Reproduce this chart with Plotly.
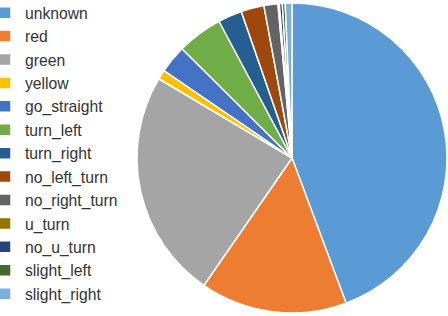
import plotly.graph_objects as go

labels = ["unknown", "red", "green", "yellow", "go_straight", "turn_left", "turn_right",
          "no_left_turn", "no_right_turn", "u_turn", "no_u_turn", "slight_left", "slight_right"]
values = [44.3, 15.3, 23.9, 1.0, 2.9, 4.75, 2.5, 2.4, 1.45, 0.15, 0.3, 0.3, 0.7]
colors = ["#5B9BD5", "#ED7D31", "#A5A5A5", "#FFC000", "#4472C4", "#70AD47", "#255E91",
          "#9E480E", "#636363", "#997300", "#264478", "#43682B", "#7CAFDD"]

W, H = 448, 316
cx, cy, r = 292, 158, 155

fig = go.Figure(go.Pie(
    labels=labels, values=values, sort=False, direction="clockwise", rotation=0,
    marker=dict(colors=colors, line=dict(color="white", width=1.5)),
    textinfo="none", hoverinfo="label+percent",
    domain=dict(x=[(cx - r) / W, (cx + r) / W], y=[(H - cy - r) / H, (H - cy + r) / H]),
))
fig.update_layout(
    width=W, height=H, margin=dict(l=0, r=0, t=0, b=0, autoexpand=False),
    paper_bgcolor="white", plot_bgcolor="white",
    showlegend=True,
    legend=dict(x=-15 / W, y=1 + 4 / H, xanchor="left", yanchor="top", maxheight=400,
                font=dict(family="Liberation Sans", size=15.7, color="#333333"),
                bgcolor="rgba(0,0,0,0)", borderwidth=0),
)
fig.write_html("out.html", config={"displayModeBar": False},
               post_script="document.body.style.margin='0';")
